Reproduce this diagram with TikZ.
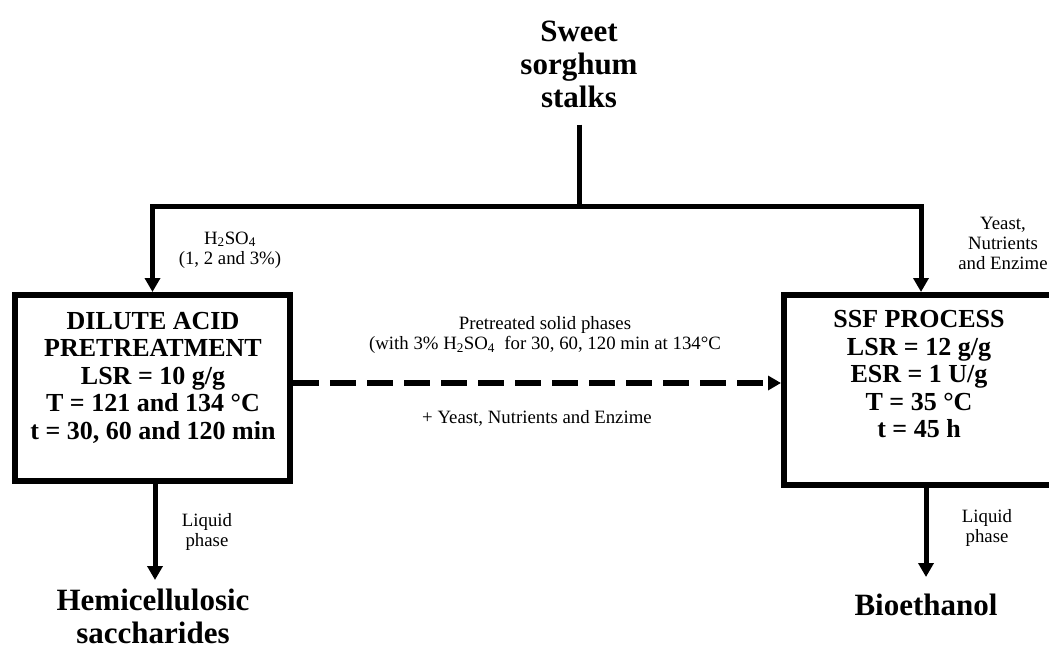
\documentclass[tikz,border=0pt]{standalone}
\usepackage{fontspec}
\setmainfont{Liberation Serif}
\usetikzlibrary{arrows.meta}
\begin{document}
\begin{tikzpicture}[x=1pt,y=-1pt,
  conn/.style={line width=5pt, -{Triangle[width=15pt,length=14pt]}},
  dasharrow/.style={line width=6pt, dash pattern=on 26pt off 11pt, -{Triangle[width=14pt,length=13pt]}},
  procbox/.style={draw, line width=6pt, rectangle, inner sep=0pt, outer sep=3pt},
  big/.style={font=\bfseries\fontsize{31}{33}\selectfont, align=center, inner sep=0pt},
  boxtxt/.style={font=\bfseries\fontsize{26}{27.5}\selectfont, align=center, inner sep=0pt},
  lbl/.style={font=\fontsize{18.8}{20}\selectfont, align=center, inner sep=0pt}]
\useasboundingbox (0,0) rectangle (1049,647);
\fill[white] (0,0) rectangle (1049,647);

% boxes
\node[procbox, minimum width=275pt, minimum height=186pt] (dap) at (152.5,388) {};
\node[procbox, minimum width=270pt, minimum height=190pt] (ssf) at (919,390) {};
\node[boxtxt] (daptxt) at (153,377.5) {DILUTE ACID\\PRETREATMENT\\LSR = 10 g/g\\T = 121 and 134 °C\\t = 30, 60 and 120 min};
\node[boxtxt] (ssftxt) at (919,374.5) {SSF PROCESS\\LSR = 12 g/g\\ESR = 1 U/g\\T = 35 °C\\t = 45 h};

% source and products
\node[big] (src) at (579,64) {Sweet\\sorghum\\stalks};
\node[big] (hemi) at (153,616) {Hemicellulosic\\saccharides};
\node[big] (bio) at (926,605) {Bioethanol};

% labels
\node[lbl] (acid) at (230,250) {H\textsubscript{2}SO\textsubscript{4}\\(1, 2 and 3\%)};
\node[lbl] (yeast) at (1003,243) {Yeast,\\Nutrients\\and Enzime};
\node[lbl] (solid) at (545,335) {Pretreated solid phases\\(with 3\% H\textsubscript{2}SO\textsubscript{4}\ \ for 30, 60, 120 min at 134°C};
\node[lbl] (add) at (537,418) {+ Yeast, Nutrients and Enzime};
\node[lbl] (liq1) at (207,532) {Liquid\\phase};
\node[lbl] (liq2) at (987,528) {Liquid\\phase};

% connectors
\coordinate (split) at (579,207);
\coordinate (hemitip) at (155,580);
\coordinate (biotip) at (926,577);
\draw[line width=5pt] ([yshift=-17pt]src.south) -- (split);
\draw[conn] (split) -| (dap.north);
\draw[conn] (split) -| ([xshift=2pt]ssf.north);
\draw[dasharrow] ([yshift=5pt]dap.east) -- ([yshift=5pt]dap.east -| ssf.west);
\draw[conn] (dap.south -| hemitip) -- (hemitip);
\draw[conn] (ssf.south -| biotip) -- (biotip);
\end{tikzpicture}
\end{document}
